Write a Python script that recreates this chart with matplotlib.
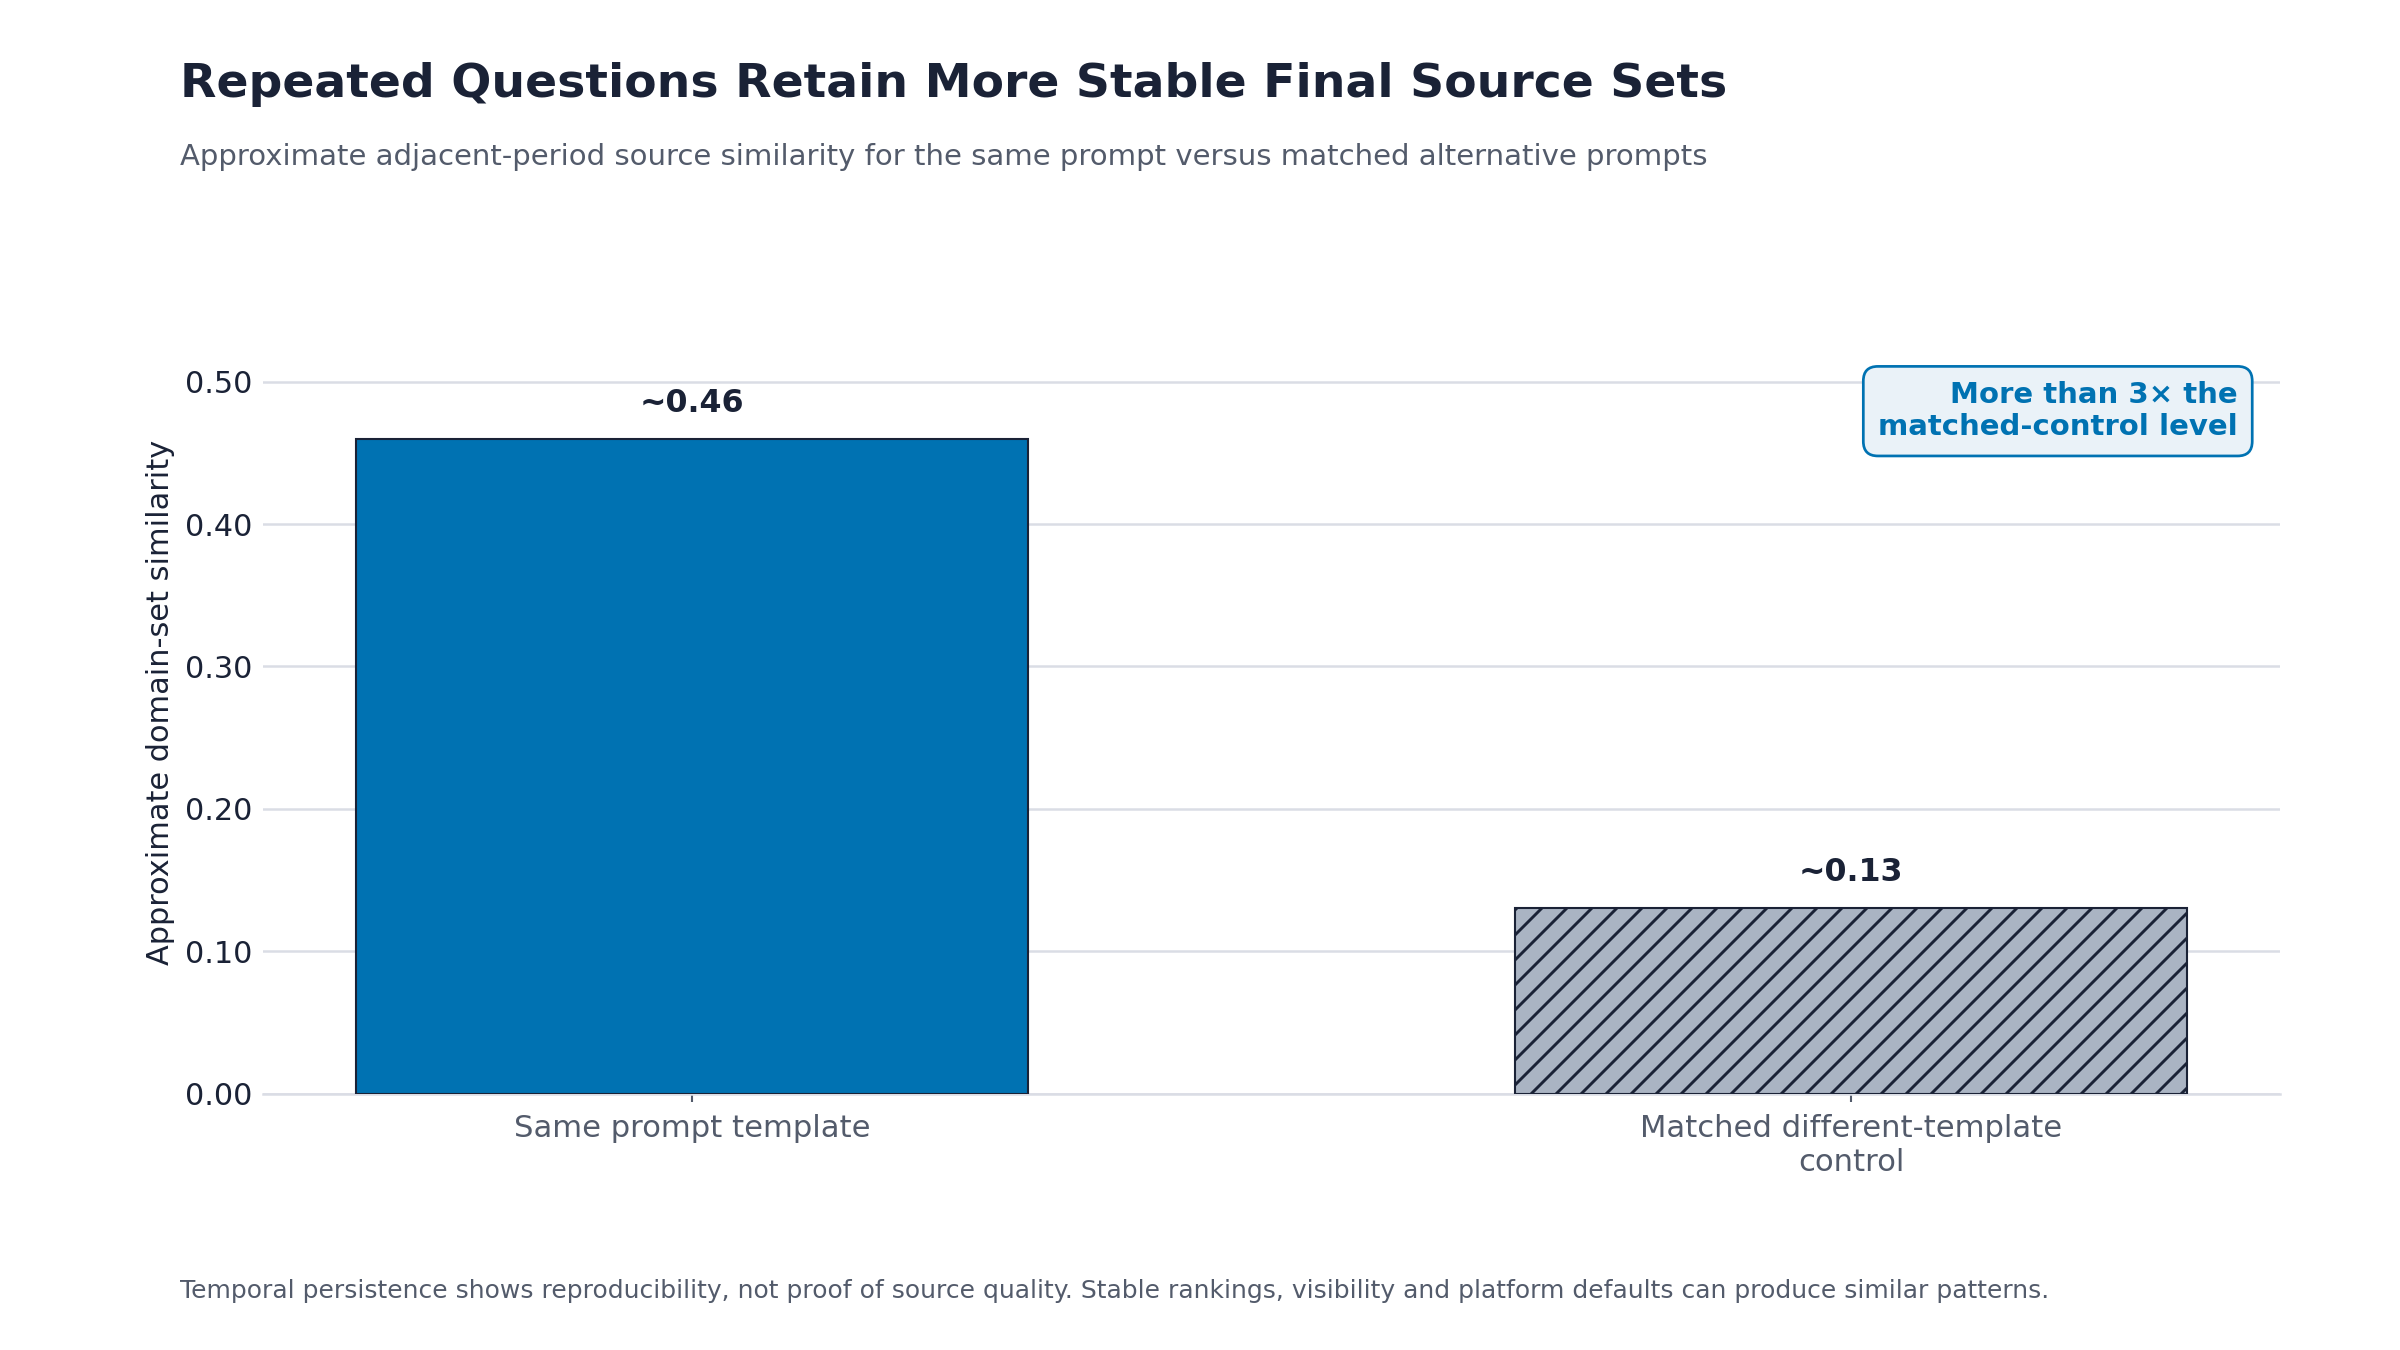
import numpy as np
import matplotlib
matplotlib.use("Agg")
import matplotlib.pyplot as plt

categories = ["Same prompt template", "Matched different-template\ncontrol"]
values = [0.46, 0.13]
value_labels = ["~0.46", "~0.13"]
yticks = [0.0, 0.1, 0.2, 0.3, 0.4, 0.5]

title = "Repeated Questions Retain More Stable Final Source Sets"
subtitle = "Approximate adjacent-period source similarity for the same prompt versus matched alternative prompts"
footer = ("Temporal persistence shows reproducibility, not proof of source quality. "
          "Stable rankings, visibility and platform defaults can produce similar patterns.")
callout = "More than 3\u00d7 the\nmatched-control level"

navy = "#1a2236"
gray_txt = "#535b6b"
blue = "#0072b2"
grid_c = "#dadde5"

plt.rcParams['font.family'] = ['DejaVu Sans']
plt.rcParams['hatch.color'] = navy
plt.rcParams['hatch.linewidth'] = 1.4

fig = plt.figure(figsize=(16, 9), dpi=150)
ax = fig.add_axes([0.1096, 0.19, 0.8404, 0.58])

x = np.arange(len(categories))
bars = ax.bar(x, values, width=0.58, color=[blue, "#aab4c3"],
              edgecolor=navy, linewidth=1.0, zorder=3)
bars[1].set_hatch("//")

for xi, v, lab in zip(x, values, value_labels):
    ax.text(xi, v + 0.014, lab, ha="center", va="bottom", fontsize=15.2,
            fontweight="bold", color=navy, zorder=4)

ax.set_xlim(-0.37, 1.37)
ax.set_ylim(0, 0.55)
ax.set_yticks(yticks)
ax.set_yticklabels([f"{t:.2f}" for t in yticks])
ax.set_xticks(x)
ax.set_xticklabels(categories)

ax.grid(axis="y", color=grid_c, linewidth=1.2, zorder=0)
ax.set_axisbelow(True)
for s in ["top", "right", "left"]:
    ax.spines[s].set_visible(False)
ax.spines["bottom"].set_color(grid_c)
ax.spines["bottom"].set_linewidth(1.2)

ax.tick_params(axis="y", length=0, pad=5, labelsize=14.5, labelcolor=navy)
ax.tick_params(axis="x", length=4, width=1, color=gray_txt, pad=6,
               labelsize=14.7, labelcolor=gray_txt)
ax.set_ylabel("Approximate domain-set similarity", fontsize=14.6, color=navy, labelpad=5)

ax.text(0.979, 0.91, callout, transform=ax.transAxes, ha="right", va="top",
        fontsize=14, fontweight="bold", color=blue, linespacing=1.2,
        bbox=dict(boxstyle="round,pad=0.5", facecolor="#eaf2f8",
                  edgecolor=blue, linewidth=1.3), zorder=5)

fig.text(0.075, 0.954, title, ha="left", va="top", fontsize=22.7,
         fontweight="bold", color=navy)
fig.text(0.075, 0.894, subtitle, ha="left", va="top", fontsize=14, color=gray_txt)
fig.text(0.075, 0.044, footer, ha="left", va="center", fontsize=12, color=gray_txt)

fig.savefig("out.png", dpi=150)
